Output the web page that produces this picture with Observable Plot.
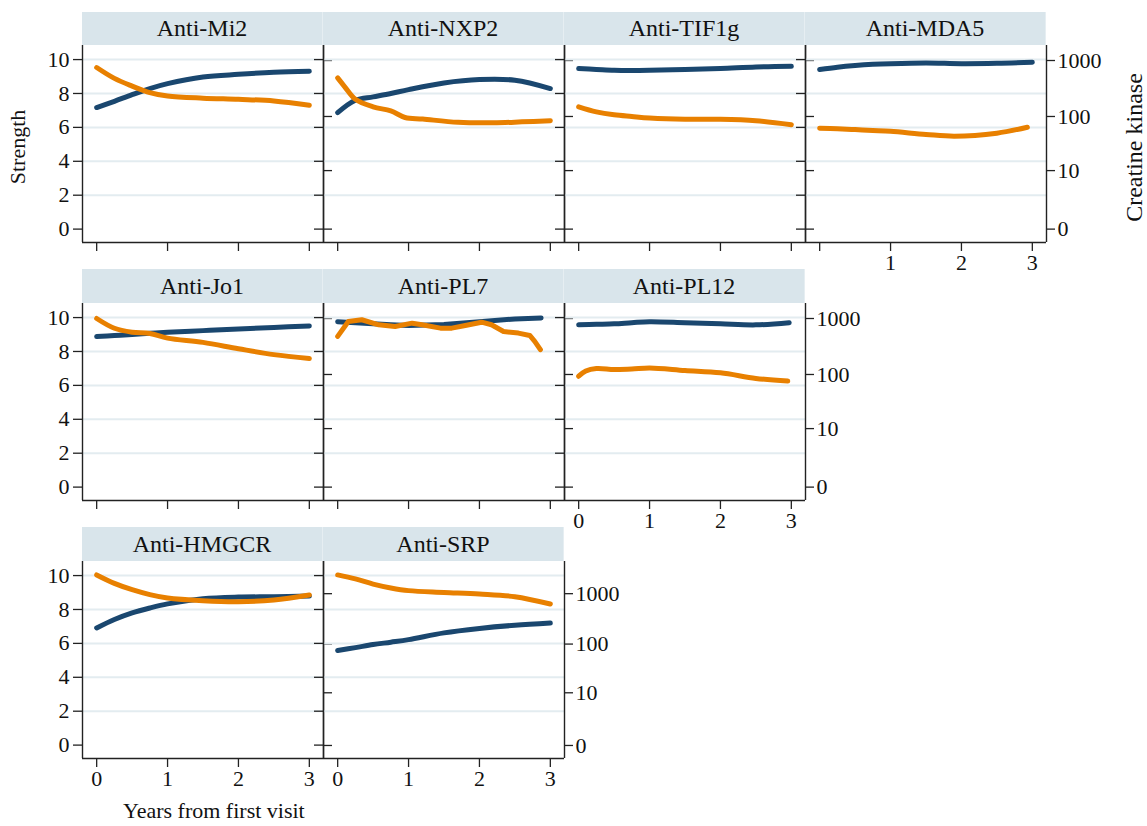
<!DOCTYPE html>
<html>
<head>
<meta charset="utf-8">
<script src="https://cdn.jsdelivr.net/npm/d3@7"></script>
<script src="https://cdn.jsdelivr.net/npm/@observablehq/plot@0.6"></script>
<style>
  html, body { margin: 0; padding: 0; background: #fff; }
  #chart { position: relative; width: 1147px; height: 826px; overflow: hidden;
           font-family: "Liberation Serif", "Times New Roman", serif; color: #111; }
  .strip { position: absolute; background: #d9e5eb; box-sizing: border-box;
           border-right: 1px solid #e6eef2; text-align: center; font-size: 24px; color: #111; }
  .layer { position: absolute; }
  .title { position: absolute; white-space: nowrap; color: #111; }
</style>
</head>
<body>
<div id="chart"></div>
<script>
// ---- data: smoothed trajectories by autoantibody group ----
const years = [0, 0.25, 0.5, 0.75, 1, 1.5, 2, 2.5, 3];

// Anti-Mi2
const mi2Strength = [7.17, 7.54, 7.93, 8.29, 8.58, 8.97, 9.13, 9.25, 9.31];
const mi2CK = [750, 480, 350, 267, 233, 213, 203, 190, 159];

// Anti-NXP2
const nxp2Strength = [6.87, 7.6, 7.8, 8.0, 8.23, 8.62, 8.82, 8.78, 8.29];
const nxp2CKYears = [0, 0.1, 0.25, 0.5, 0.75, 0.95, 1.2, 1.7, 2.2, 2.6, 3];
const nxp2CK = [490, 340, 204, 149, 126, 96, 90, 78.5, 77, 80, 84];

// Anti-TIF1g
const tif1gStrength = [9.47, 9.42, 9.37, 9.36, 9.37, 9.41, 9.47, 9.56, 9.6];
const tif1gCK = [149, 121, 107, 100, 94, 89, 89, 84, 71];

// Anti-MDA5
const mda5Strength = [9.41, 9.55, 9.65, 9.72, 9.76, 9.8, 9.76, 9.78, 9.84];
const mda5CKYears = [0, 0.25, 0.5, 0.75, 1, 1.5, 1.9, 2.5, 2.93];
const mda5CK = [61.5, 60, 58, 56, 54, 47.5, 44, 50, 64];

// Anti-Jo1
const jo1Strength = [8.88, 8.94, 9.0, 9.07, 9.13, 9.23, 9.33, 9.42, 9.51];
const jo1CK = [1000, 670, 571, 542, 447, 375, 289, 227, 193];

// Anti-PL7
const pl7StrengthYears = [0, 0.25, 0.5, 0.75, 1, 1.5, 2, 2.5, 2.87];
const pl7Strength = [9.76, 9.7, 9.63, 9.58, 9.53, 9.59, 9.76, 9.92, 9.98];
const pl7CKYears = [0, 0.15, 0.34, 0.58, 0.81, 1.05, 1.19, 1.45, 1.61, 1.8, 2.03, 2.17, 2.34, 2.55, 2.71, 2.78, 2.86];
const pl7CK = [480, 885, 950, 773, 722, 826, 773, 673, 673, 751, 860, 773, 587, 550, 499, 392, 278];

// Anti-PL12
const pl12StrengthYears = [0, 0.25, 0.5, 0.75, 1, 1.5, 2, 2.5, 2.97];
const pl12Strength = [9.57, 9.6, 9.63, 9.7, 9.76, 9.70, 9.63, 9.57, 9.7];
const pl12CKYears = [0, 0.1, 0.25, 0.5, 0.75, 1, 1.5, 2, 2.5, 2.95];
const pl12CK = [93, 115, 128, 123, 125, 131, 118, 107, 85, 76];

// Anti-HMGCR
const hmgcrStrength = [6.91, 7.41, 7.8, 8.09, 8.33, 8.63, 8.73, 8.75, 8.79];
const hmgcrCK = [2350, 1600, 1200, 960, 822, 726, 693, 750, 942];

// Anti-SRP
const srpStrength = [5.58, 5.75, 5.93, 6.07, 6.22, 6.62, 6.88, 7.07, 7.2];
const srpCK = [2350, 1960, 1550, 1300, 1150, 1060, 986, 872, 624];

const strengthTicks = [0, 2, 4, 6, 8, 10];
const ckTicks = [0, 10, 100, 1000];
const yearTicks = [0, 1, 2, 3];

// ---- layout ----
const navy = "#1a476f";
const orange = "#e88000";
const axisColor = "#222";
const colLeft = [82, 323, 564, 805];
const stripTop = [12, 269, 527];
const plotTop = [45, 303, 561];
const W = 241, H = 197;
const M = {left: 70, right: 110, top: 4, bottom: 44};
const xDomain = [-0.2, 3.2];
const strengthDomain = [-0.79, 10.83];
// creatine kinase axis (symlog) per row of panels
const ckDomainByRow = [[-0.73, 1850], [-0.73, 1850], [-0.81, 4330]];

// xLabels: which year ticks carry a label under the panel
const panels = [
  {name: "Anti-Mi2",   col: 0, row: 0, sx: years, sy: mi2Strength, cx: years, cy: mi2CK, left: true},
  {name: "Anti-NXP2",  col: 1, row: 0, sx: years, sy: nxp2Strength, cx: nxp2CKYears, cy: nxp2CK},
  {name: "Anti-TIF1g", col: 2, row: 0, sx: years, sy: tif1gStrength, cx: years, cy: tif1gCK},
  {name: "Anti-MDA5",  col: 3, row: 0, sx: years, sy: mda5Strength, cx: mda5CKYears, cy: mda5CK, right: true, xLabels: [1, 2, 3]},
  {name: "Anti-Jo1",   col: 0, row: 1, sx: years, sy: jo1Strength, cx: years, cy: jo1CK, left: true},
  {name: "Anti-PL7",   col: 1, row: 1, sx: pl7StrengthYears, sy: pl7Strength, cx: pl7CKYears, cy: pl7CK, jagged: true},
  {name: "Anti-PL12",  col: 2, row: 1, sx: pl12StrengthYears, sy: pl12Strength, cx: pl12CKYears, cy: pl12CK, right: true, xLabels: yearTicks},
  {name: "Anti-HMGCR", col: 0, row: 2, sx: years, sy: hmgcrStrength, cx: years, cy: hmgcrCK, left: true, xLabels: yearTicks},
  {name: "Anti-SRP",   col: 1, row: 2, sx: years, sy: srpStrength, cx: years, cy: srpCK, right: true, xLabels: yearTicks}
];

const chart = document.getElementById("chart");
const baseStyle = {
  background: "transparent", overflow: "visible",
  fontFamily: "'Liberation Serif', 'Times New Roman', serif",
  fontSize: "22px", color: axisColor
};
const blank = () => "";

function place(el, x, y) {
  el.classList.add("layer");
  el.style.left = x + "px";
  el.style.top = y + "px";
  chart.appendChild(el);
}

for (const p of panels) {
  const x0 = colLeft[p.col], y0 = plotTop[p.row];

  // strip with the group name
  const strip = document.createElement("div");
  strip.className = "strip";
  strip.style.left = x0 + "px";
  strip.style.top = stripTop[p.row] + "px";
  strip.style.width = W + "px";
  strip.style.height = (y0 - stripTop[p.row]) + "px";
  strip.style.lineHeight = (y0 - stripTop[p.row]) + "px";
  strip.textContent = p.name;
  chart.appendChild(strip);

  const common = {
    width: W + M.left + M.right, height: H + M.top + M.bottom,
    marginLeft: M.left, marginRight: M.right, marginTop: M.top, marginBottom: M.bottom,
    style: baseStyle,
    x: {domain: xDomain, axis: null}
  };
  const curve = p.jagged ? "linear" : "catmull-rom";
  const shown = new Set(p.xLabels || []);

  // strength layer (left axis)
  const strengthData = p.sx.map((t, i) => ({t, v: p.sy[i]}));
  const sPlot = Plot.plot({
    ...common,
    y: {domain: strengthDomain, axis: null},
    marks: [
      Plot.gridY([2, 4, 6, 8, 10], {stroke: "#e3ecf0", strokeWidth: 2, strokeOpacity: 1}),
      Plot.ruleX([xDomain[0]], {stroke: axisColor, strokeWidth: 1.4}),
      Plot.ruleY([strengthDomain[0]], {stroke: axisColor, strokeWidth: 1.4}),
      Plot.axisY({ticks: strengthTicks, anchor: "left", tickSize: 9, tickPadding: 4,
                  tickFormat: p.left ? (d => String(d)) : blank, label: null,
                  stroke: axisColor, strokeWidth: 1.3, fill: "#111"}),
      Plot.axisX({ticks: yearTicks, anchor: "bottom", tickSize: 9, tickPadding: 3,
                  tickFormat: d => shown.has(d) ? String(d) : "", label: null,
                  stroke: axisColor, strokeWidth: 1.3, fill: "#111"}),
      Plot.line(strengthData, {x: "t", y: "v", stroke: navy, strokeWidth: 5,
                               strokeLinecap: "round", strokeLinejoin: "round", curve})
    ]
  });
  place(sPlot, x0 - M.left, y0 - M.top);

  // creatine kinase layer (right axis)
  const ckData = p.cx.map((t, i) => ({t, v: p.cy[i]}));
  const cPlot = Plot.plot({
    ...common,
    y: {type: "symlog", domain: ckDomainByRow[p.row], axis: null},
    marks: [
      Plot.ruleX([xDomain[1]], {stroke: axisColor, strokeWidth: 1.4}),
      Plot.axisY({ticks: ckTicks, anchor: "right", tickSize: 8, tickPadding: 3,
                  tickFormat: p.right ? (d => String(d)) : blank, label: null,
                  stroke: axisColor, strokeWidth: 1.3, fill: "#111"}),
      Plot.line(ckData, {x: "t", y: "v", stroke: orange, strokeWidth: 5,
                         strokeLinecap: "round", strokeLinejoin: "round", curve})
    ]
  });
  place(cPlot, x0 - M.left, y0 - M.top);
}

// axis titles
function title(text, cx, cy, rotate, size) {
  const d = document.createElement("div");
  d.className = "title";
  d.style.fontSize = size + "px";
  d.textContent = text;
  chart.appendChild(d);
  const w = d.offsetWidth, h = d.offsetHeight;
  d.style.left = (cx - w / 2) + "px";
  d.style.top = (cy - h / 2) + "px";
  if (rotate) d.style.transform = `rotate(${rotate}deg)`;
}
title("Strength", 18, 147, -90, 22);
title("Creatine kinase", 1134, 147, -90, 24);
title("Years from first visit", 214, 811, 0, 22);
</script>
</body>
</html>
